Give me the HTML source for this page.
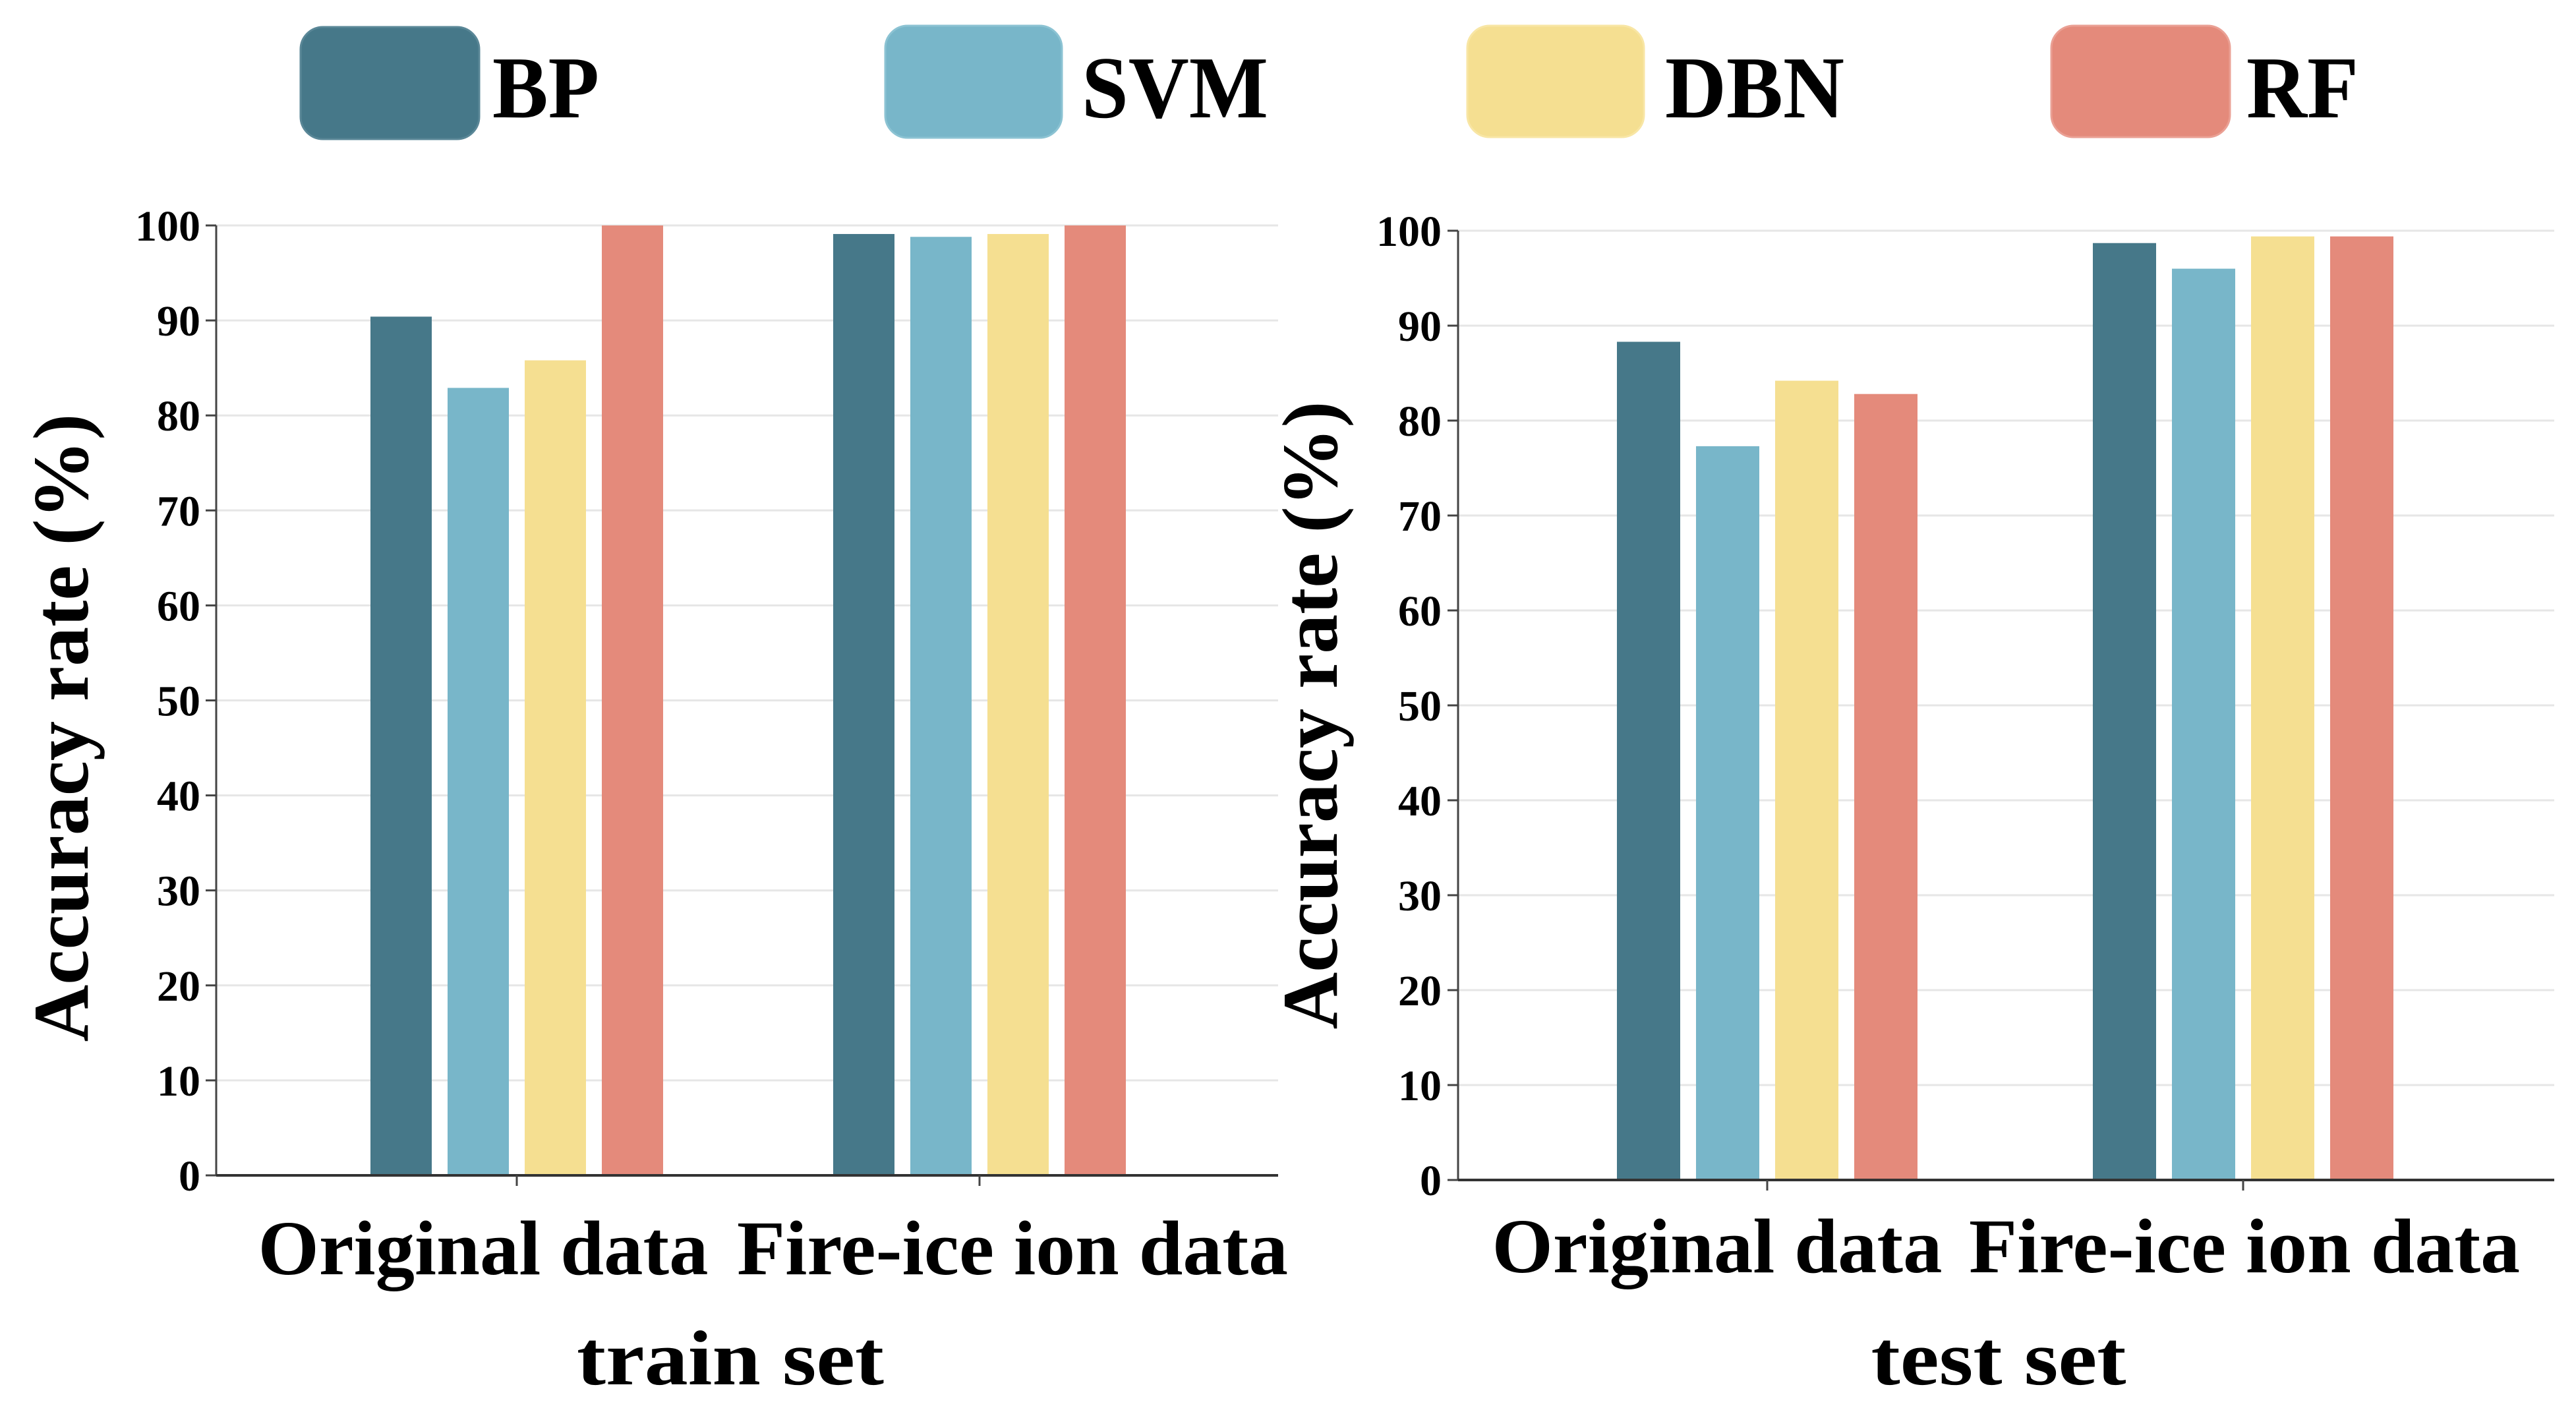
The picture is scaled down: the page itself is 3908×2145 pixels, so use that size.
<!DOCTYPE html>
<html><head><meta charset="utf-8"><style>
html,body{margin:0;padding:0;background:#fff;}
svg{display:block;}
text{font-family:"Liberation Serif",serif;font-weight:bold;fill:#000;}
</style></head><body>
<svg id="fig" width="3908" height="2145" viewBox="0 0 3908 2145" xmlns="http://www.w3.org/2000/svg">
  <g>
    <g>
      <rect x="456" y="41" width="271" height="170" rx="34" fill="#467889" stroke="#5a8797" stroke-width="3"/>
      <text x="747" y="178" font-size="134" textLength="162" lengthAdjust="spacingAndGlyphs">BP</text>
    </g>
    <g>
      <rect x="1343" y="39" width="268" height="170" rx="34" fill="#78b6c9" stroke="#8cc3d3" stroke-width="3"/>
      <text x="1641" y="178" font-size="134" textLength="283" lengthAdjust="spacingAndGlyphs">SVM</text>
    </g>
    <g>
      <rect x="2226" y="39" width="268" height="169" rx="34" fill="#f5df91" stroke="#f8e6a5" stroke-width="3"/>
      <text x="2526" y="178" font-size="134" textLength="272" lengthAdjust="spacingAndGlyphs">DBN</text>
    </g>
    <g>
      <rect x="3112" y="39" width="271" height="169" rx="34" fill="#e48a7b" stroke="#eaa094" stroke-width="3"/>
      <text x="3408" y="178" font-size="134" textLength="170" lengthAdjust="spacingAndGlyphs">RF</text>
    </g>
  </g>
  <g id="chart-train"></g>
  <g id="chart-test"></g>
</svg>
<script>
const categories = ["Original data", "Fire-ice ion data"];
const seriesNames = ["BP", "SVM", "DBN", "RF"];
const seriesColors = ["#467889", "#78b6c9", "#f5df91", "#e48a7b"];
const trainBP = [90.4, 99.1];
const trainSVM = [82.9, 98.8];
const trainDBN = [85.8, 99.1];
const trainRF = [100, 100];
const testBP = [88.3, 98.7];
const testSVM = [77.3, 96.0];
const testDBN = [84.2, 99.4];
const testRF = [82.8, 99.4];
const yTicks = [0, 10, 20, 30, 40, 50, 60, 70, 80, 90, 100];
const trainTitle = "train set";
const testTitle = "test set";

const NS = "http://www.w3.org/2000/svg";
function mk(tag, attrs, parent) {
  const e = document.createElementNS(NS, tag);
  for (const k in attrs) e.setAttribute(k, attrs[k]);
  parent.appendChild(e);
  return e;
}
const catWidths = [683, 836];

function drawChart(g, cfg, series, title) {
  const y = v => cfg.y0 + (cfg.y100 - cfg.y0) * v / 100;
  const xc = i => cfg.c0 + (cfg.c1 - cfg.c0) * i;
  yTicks.forEach(t => {
    if (t > 0) {
      const gl = mk("line", {x1: cfg.ax, x2: cfg.axEnd, y1: y(t), y2: y(t), stroke: "#e6e6e6", "stroke-width": 3}, g);
      
      
    }
    const tk = mk("line", {x1: cfg.ax - 16, x2: cfg.ax, y1: y(t), y2: y(t), stroke: "#444", "stroke-width": 3}, g);
    
    
    const lb = mk("text", {x: cfg.labR, y: y(t) + 23, "font-size": 66, "text-anchor": "end"}, g);
    lb.textContent = t;
    
    
  });
  series.forEach((vals, s) => {
    vals.forEach((v, i) => {
      const x = xc(i) + (s - 1.5) * cfg.step - cfg.bw / 2;
      const r = mk("rect", {x: x, y: y(v), width: cfg.bw, height: y(0) - y(v), fill: seriesColors[s]}, g);
      
      
    });
  });
  const ya = mk("line", {x1: cfg.ax, x2: cfg.ax, y1: y(100), y2: y(0), stroke: "#444", "stroke-width": 3}, g);
  
  
  const xa = mk("line", {x1: cfg.ax, x2: cfg.axEnd, y1: y(0), y2: y(0), stroke: "#333", "stroke-width": 4}, g);
  
  
  categories.forEach((c, i) => {
    const tk = mk("line", {x1: xc(i), x2: xc(i), y1: y(0), y2: y(0) + 16, stroke: "#444", "stroke-width": 3}, g);
    
    
    const lb = mk("text", {x: xc(i) + cfg.labOff[i], y: cfg.catY, "font-size": 118, "text-anchor": "middle", textLength: catWidths[i], lengthAdjust: "spacingAndGlyphs"}, g);
    lb.textContent = c;
    
    
  });
  const xt = mk("text", {x: cfg.titleX, y: cfg.titleY, "font-size": 118, "text-anchor": "middle", textLength: cfg.titleW, lengthAdjust: "spacingAndGlyphs"}, g);
  xt.textContent = title;
  
  
  const yt = mk("text", {x: 0, y: 0, "font-size": 120, "text-anchor": "middle", transform: "translate(" + cfg.ytX + "," + cfg.ytY + ") rotate(-90)"}, g);
  yt.textContent = "Accuracy rate (%)";
  
  
}

drawChart(document.getElementById("chart-train"),
  {ax: 328, axEnd: 1939, y0: 1783, y100: 342, c0: 784, c1: 1486, bw: 93, step: 117, labR: 304,
   catY: 1933, titleX: 1108, titleY: 2100, titleW: 466, ytX: 133, ytY: 1104, labOff: [-51, 50]},
  [trainBP, trainSVM, trainDBN, trainRF], trainTitle);
drawChart(document.getElementById("chart-test"),
  {ax: 2212, axEnd: 3875, y0: 1790, y100: 350, c0: 2681, c1: 3403, bw: 96, step: 120, labR: 2187,
   catY: 1930, titleX: 3032, titleY: 2100, titleW: 387, ytX: 2028, ytY: 1085, labOff: [-76, 2]},
  [testBP, testSVM, testDBN, testRF], testTitle);
</script>
</body></html>
